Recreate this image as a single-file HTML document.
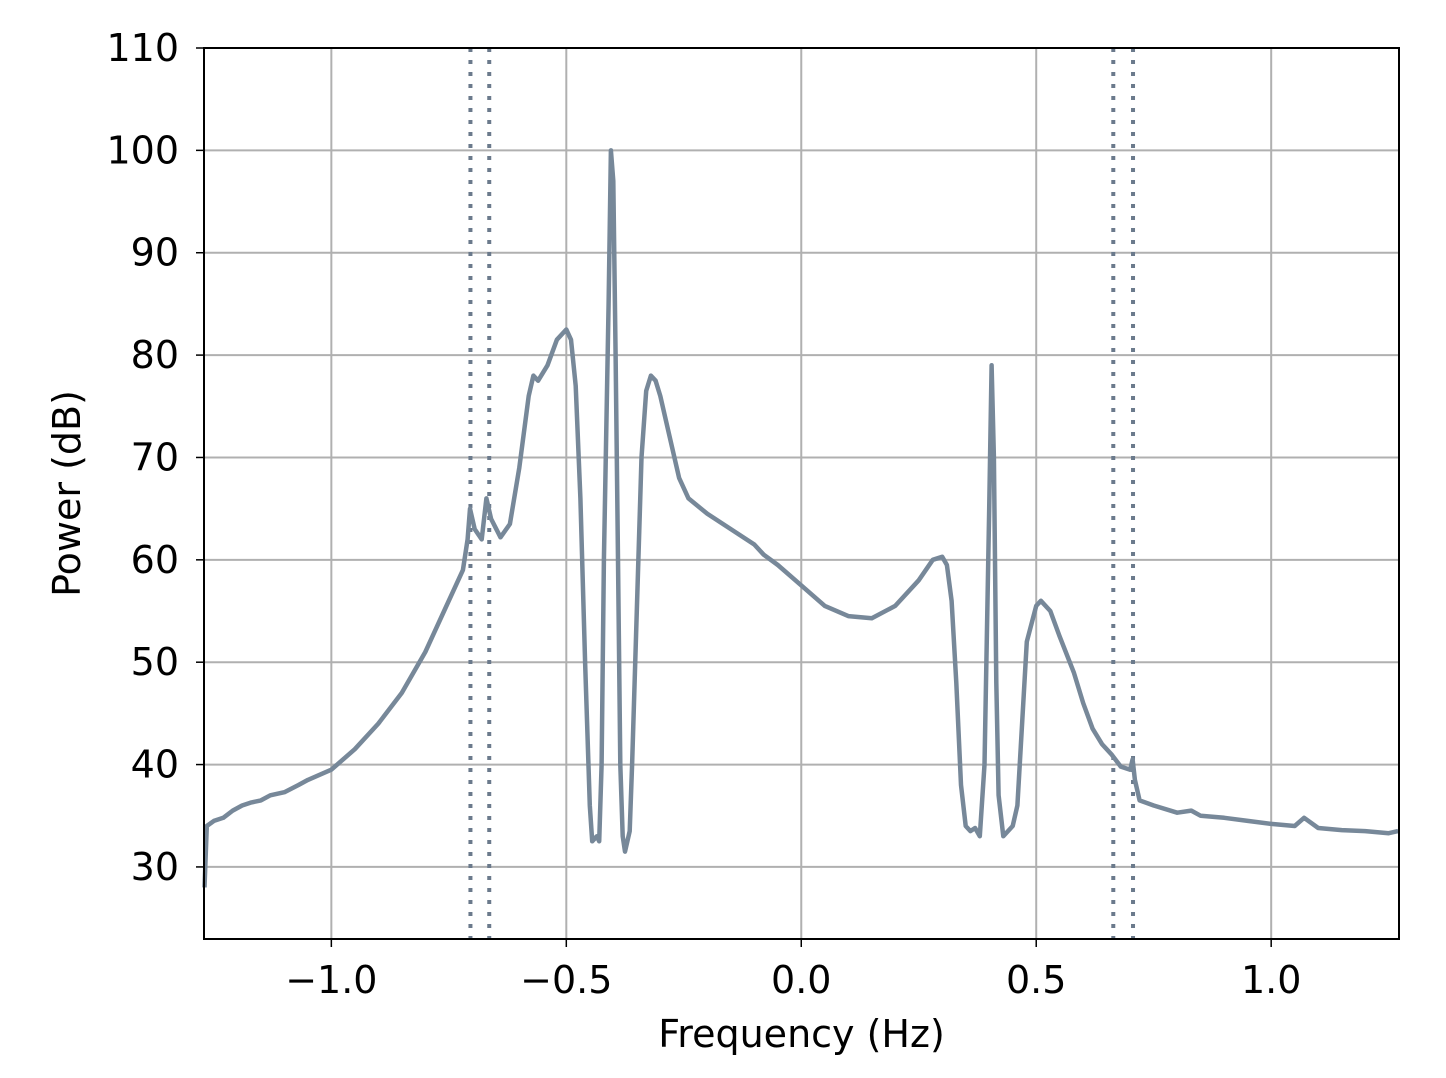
<!DOCTYPE html>
<html><head><meta charset="utf-8"><style>
body{margin:0;background:#fff;}
svg text{font-family:"DejaVu Sans","Liberation Sans",sans-serif;fill:#000;}
</style></head><body>
<svg id="chart" width="1446" height="1073" xmlns="http://www.w3.org/2000/svg"></svg>
<script>
const freqs=[-1.27,-1.265,-1.25,-1.23,-1.21,-1.19,-1.17,-1.15,-1.13,-1.1,-1.07,-1.05,-1.0,-0.95,-0.9,-0.85,-0.8,-0.76,-0.72,-0.71,-0.705,-0.695,-0.68,-0.67,-0.66,-0.64,-0.62,-0.6,-0.58,-0.57,-0.56,-0.54,-0.52,-0.5,-0.49,-0.48,-0.47,-0.46,-0.45,-0.445,-0.435,-0.43,-0.425,-0.42,-0.41,-0.405,-0.4,-0.395,-0.39,-0.385,-0.38,-0.375,-0.365,-0.36,-0.35,-0.34,-0.33,-0.32,-0.31,-0.3,-0.28,-0.26,-0.24,-0.2,-0.15,-0.1,-0.08,-0.05,0.0,0.05,0.1,0.15,0.2,0.25,0.28,0.3,0.31,0.32,0.33,0.34,0.35,0.36,0.37,0.38,0.39,0.4,0.405,0.41,0.415,0.42,0.43,0.44,0.45,0.46,0.47,0.48,0.5,0.51,0.53,0.55,0.58,0.6,0.62,0.64,0.66,0.68,0.7,0.705,0.71,0.72,0.75,0.8,0.83,0.85,0.9,0.95,1.0,1.05,1.07,1.1,1.15,1.2,1.25,1.27];
const power=[28,34,34.5,34.8,35.5,36,36.3,36.5,37,37.3,38,38.5,39.5,41.5,44,47,51,55,59,62,65,63,62,66,64,62.2,63.5,69,76,78,77.5,79,81.5,82.5,81.5,77,66,50,36,32.5,33,32.5,40,60,85,100,97,80,60,40,33,31.5,33.5,40,55,70,76.5,78,77.5,76,72,68,66,64.5,63,61.5,60.5,59.5,57.5,55.5,54.5,54.3,55.5,58,60,60.3,59.5,56,48,38,34,33.5,33.8,33,40,65,79,70,48,37,33,33.5,34,36,44,52,55.5,56,55,52.5,49,46,43.5,42,41,39.8,39.5,40.5,38.5,36.5,36,35.3,35.5,35,34.8,34.5,34.2,34,34.8,33.8,33.6,33.5,33.3,33.5];
const xTicks=[-1.0,-0.5,0.0,0.5,1.0];
const xTickLabels=["\u22121.0","\u22120.5","0.0","0.5","1.0"];
const yTicks=[30,40,50,60,70,80,90,100,110];
const vlines=[-0.704,-0.664,0.664,0.706];

const L=204,R=1399,T=48,B=939;
const xmin=-1.271,xmax=1.272,ymin=22.96,ymax=110;
const X=v=>L+(v-xmin)/(xmax-xmin)*(R-L);
const Y=v=>B-(v-ymin)/(ymax-ymin)*(B-T);
const svg=document.getElementById('chart');
const NS='http://www.w3.org/2000/svg';
function mk(tag,attrs,parent){const e=document.createElementNS(NS,tag);for(const k in attrs)e.setAttribute(k,attrs[k]);(parent||svg).appendChild(e);return e;}

xTicks.forEach((t,i)=>{
  const g=mk('line',{x1:X(t),x2:X(t),y1:T,y2:B,stroke:'#b0b0b0','stroke-width':2});
  
  
  mk('line',{x1:X(t),x2:X(t),y1:B,y2:B+8,stroke:'#000','stroke-width':1.5});
  const tx=mk('text',{x:X(t),y:B+54,'text-anchor':'middle','font-size':38});
  tx.textContent=xTickLabels[i];
  
  
});
yTicks.forEach(t=>{
  const g=mk('line',{x1:L,x2:R,y1:Y(t),y2:Y(t),stroke:'#b0b0b0','stroke-width':2});
  
  
  mk('line',{x1:L-8,x2:L,y1:Y(t),y2:Y(t),stroke:'#000','stroke-width':1.5});
  const tx=mk('text',{x:L-25,y:Y(t)+13,'text-anchor':'end','font-size':38});
  tx.textContent=String(t);
  
  
});
vlines.forEach(v=>{
  const l=mk('line',{x1:X(v),x2:X(v),y1:T,y2:B,stroke:'#6b7a8c','stroke-width':4,'stroke-dasharray':'4,8'});
  
  
});
const d=freqs.map((f,i)=>(i?'L':'M')+X(f).toFixed(1)+','+Y(power[i]).toFixed(1)).join('');
const p=mk('path',{d:d,fill:'none',stroke:'#778899','stroke-width':4.5,'stroke-linejoin':'round'});


const fr=mk('rect',{x:L,y:T,width:R-L,height:B-T,fill:'none',stroke:'#000','stroke-width':2});


const xl=mk('text',{x:(L+R)/2,y:1047,'text-anchor':'middle','font-size':38});
xl.textContent='Frequency (Hz)';


const yl=mk('text',{x:0,y:0,'text-anchor':'middle','font-size':38,transform:'translate(80,'+((T+B)/2)+') rotate(-90)'});
yl.textContent='Power (dB)';


</script>
</body></html>
